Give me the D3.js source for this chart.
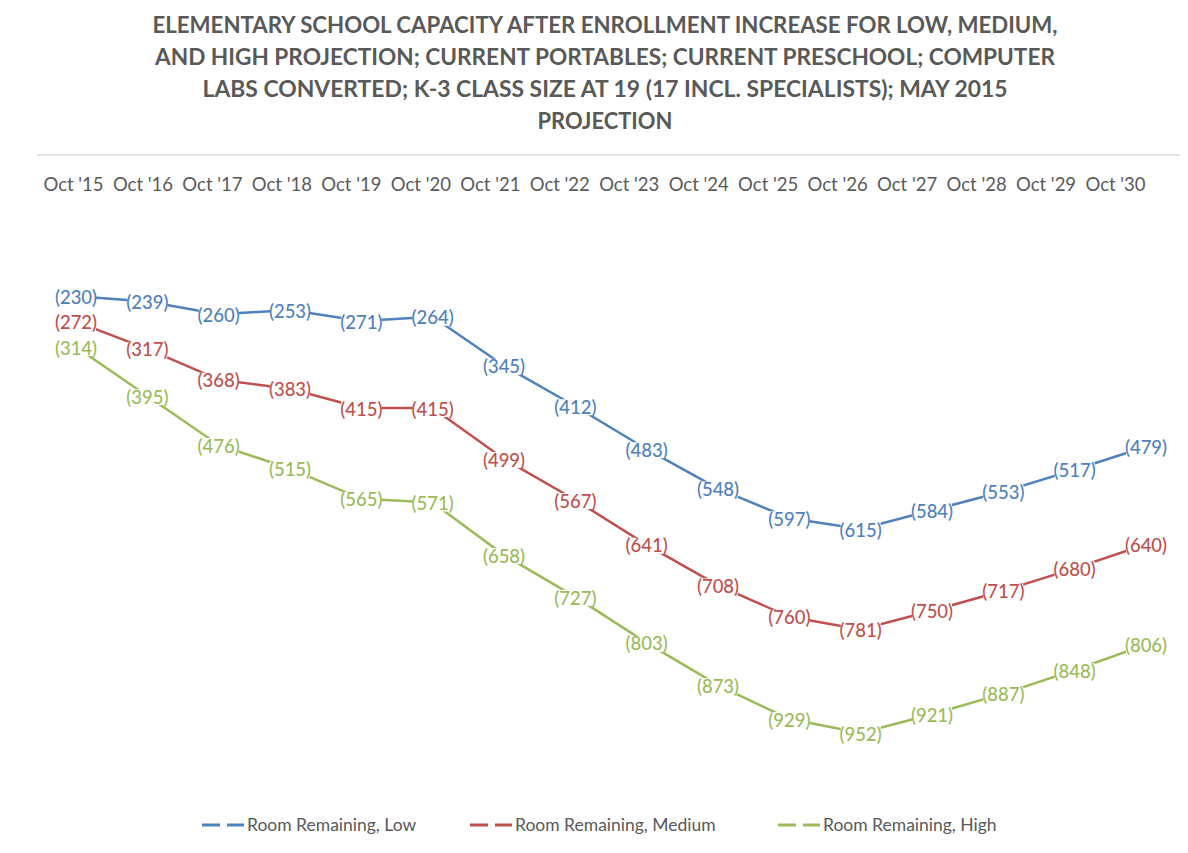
<!DOCTYPE html>
<html>
<head>
<meta charset="utf-8">
<script src="https://cdn.jsdelivr.net/npm/d3@7"></script>
<style>
  body { margin: 0; background: #fff; }
  text { font-family: Lato, "Open Sans", sans-serif; }
</style>
</head>
<body>
<div id="chart"></div>
<script>
// カテゴリ（年）
const years = ["Oct '15", "Oct '16", "Oct '17", "Oct '18", "Oct '19", "Oct '20", "Oct '21", "Oct '22",
  "Oct '23", "Oct '24", "Oct '25", "Oct '26", "Oct '27", "Oct '28", "Oct '29", "Oct '30"];

// 残り教室数（マイナスは不足）
const lowValues = [-230, -239, -260, -253, -271, -264, -345, -412, -483, -548, -597, -615, -584, -553, -517, -479];
const mediumValues = [-272, -317, -368, -383, -415, -415, -499, -567, -641, -708, -760, -781, -750, -717, -680, -640];
const highValues = [-314, -395, -476, -515, -565, -571, -658, -727, -803, -873, -929, -952, -921, -887, -848, -806];

const seriesNames = ['Room Remaining, Low', 'Room Remaining, Medium', 'Room Remaining, High'];
const seriesColors = ['#4f81bd', '#c0504d', '#9bbb59'];

const titleLines = [
  'ELEMENTARY SCHOOL CAPACITY AFTER ENROLLMENT INCREASE FOR LOW, MEDIUM,',
  'AND HIGH PROJECTION; CURRENT PORTABLES; CURRENT PRESCHOOL; COMPUTER',
  'LABS CONVERTED; K-3 CLASS SIZE AT 19 (17 INCL. SPECIALISTS); MAY 2015',
  'PROJECTION'
];

const series = [lowValues, mediumValues, highValues].map((vals, i) => ({
  name: seriesNames[i],
  color: seriesColors[i],
  values: vals
}));

const svgWidth = 1188;
const svgHeight = 853;

const svg = d3.select('#chart')
  .append('svg')
  .attr('width', svgWidth)
  .attr('height', svgHeight);

// タイトル
const titleWidths = [905, 900, 805, 135];
svg.append('g')
  .selectAll('text')
  .data(titleLines)
  .enter()
  .append('text')
  .attr('x', 605)
  .attr('y', (d, i) => 25 + i * 32)
  .attr('dy', '0.36em')
  .attr('text-anchor', 'middle')
  .attr('font-size', 23)
  .attr('font-weight', 'bold')
  .attr('fill', '#595959')
  .attr('textLength', (d, i) => titleWidths[i])
  .attr('lengthAdjust', 'spacingAndGlyphs')
  .text(d => d);

// スケール
const x = d3.scalePoint().domain(years).range([76, 1146]);
const xLabel = d3.scalePoint().domain(years).range([73, 1115]);
const y = d3.scaleLinear().domain([-1000, 0]).range([762, 157]);

// 横軸（上側）
svg.append('line')
  .attr('x1', 37).attr('x2', 1180)
  .attr('y1', 155).attr('y2', 155)
  .attr('stroke', '#d9d9d9')
  .attr('stroke-width', 1.5);

const xAxis = svg.append('g')
  .attr('transform', 'translate(0,178)')
  .call(d3.axisBottom(xLabel).tickSize(0).tickPadding(0));
xAxis.select('.domain').remove();
xAxis.selectAll('text')
  .attr('font-size', 18.5)
  .attr('fill', '#595959')
  .attr('font-family', 'Lato, sans-serif');

// 折れ線
const line = d3.line()
  .x((d, i) => x(years[i]))
  .y(d => y(d));

svg.append('g')
  .selectAll('path')
  .data(series)
  .enter()
  .append('path')
  .attr('d', s => line(s.values))
  .attr('fill', 'none')
  .attr('stroke', s => s.color)
  .attr('stroke-width', 2.5);

// データラベル
const fmt = v => `(${Math.abs(v)})`;
const labelGroups = svg.append('g')
  .selectAll('g')
  .data(series)
  .enter()
  .append('g')
  .attr('fill', s => s.color);

const labels = labelGroups.selectAll('g')
  .data(s => s.values)
  .enter()
  .append('g')
  .attr('transform', (d, i) => `translate(${x(years[i])},${y(d) + 1})`);

labels.append('rect')
  .attr('x', -20)
  .attr('y', -8)
  .attr('width', 40)
  .attr('height', 16)
  .attr('fill', '#fff');

labels.append('text')
  .attr('text-anchor', 'middle')
  .attr('dy', '0.36em')
  .attr('font-size', 18.5)
  .attr('font-weight', 500)
  .text(fmt);

// 凡例
const legendX = [202, 470, 778];
const legend = svg.append('g')
  .selectAll('g')
  .data(series)
  .enter()
  .append('g')
  .attr('transform', (d, i) => `translate(${legendX[i]},825)`);

legend.append('line')
  .attr('x1', 0).attr('x2', 42)
  .attr('y1', 0).attr('y2', 0)
  .attr('stroke', s => s.color)
  .attr('stroke-width', 3)
  .attr('stroke-dasharray', '18,7');

legend.append('text')
  .attr('x', 45)
  .attr('dy', '0.36em')
  .attr('font-size', 17.5)
  .attr('fill', '#595959')
  .text(s => s.name);
</script>
</body>
</html>
